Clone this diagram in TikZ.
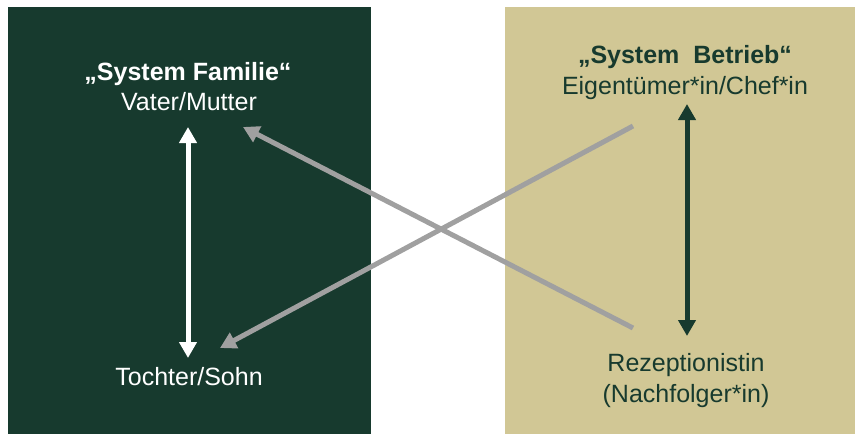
\documentclass[tikz,border=0pt]{standalone}
\usepackage{fontspec}
\setmainfont{Liberation Sans}
\usetikzlibrary{arrows.meta}
\definecolor{dkgreen}{RGB}{23,58,46}
\definecolor{beige}{RGB}{209,199,149}
\definecolor{arrgrey}{RGB}{160,160,160}
\begin{document}
\begin{tikzpicture}[x=1pt,y=-1pt,
  lbl/.style={anchor=base,inner sep=0pt,font=\fontsize{25}{30}\selectfont},
  ttl/.style={lbl,font=\fontsize{25}{30}\selectfont\bfseries},
  conn/.style={line width=5pt,{Triangle[width=17pt,length=16pt]}-{Triangle[width=17pt,length=16pt]}},
  oneway/.style={line width=5pt,-{Triangle[width=17pt,length=16pt]}}]
\useasboundingbox (0,0) rectangle (855,434);
\fill[dkgreen] (8,7) rectangle (371,434);
\fill[beige] (505,7) rectangle (855,434);
% left texts
\node[ttl,text=white] (famtitle) at (188,80) {„System Familie“};
\node[lbl,text=white] (vater) at (189,110) {Vater/Mutter};
\node[lbl,text=white] (tochter) at (189,385) {Tochter/Sohn};
% right texts
\node[ttl,text=dkgreen] (bettitle) at (685,63) {„System~ Betrieb“};
\node[lbl,text=dkgreen] (chef) at (685,94) {Eigentümer*in/Chef*in};
\node[lbl,text=dkgreen] (rez) at (686,371) {Rezeptionistin};
\node[lbl,text=dkgreen] (nach) at (686,402) {(Nachfolger*in)};
% arrow ends
\coordinate (wtop) at (188,127);
\coordinate (wbot) at (188,358);
\coordinate (gtop) at (687,104);
\coordinate (gbot) at (687,336);
\coordinate (g1s) at (633,328);
\coordinate (g1e) at (243,127);
\coordinate (g2s) at (633,126);
\coordinate (g2e) at (220,348);
\draw[conn,white] (wtop) -- (wbot);
\draw[conn,dkgreen] (gtop) -- (gbot);
\draw[oneway,arrgrey] (g1s) -- (g1e);
\draw[oneway,arrgrey] (g2s) -- (g2e);
\end{tikzpicture}
\end{document}
